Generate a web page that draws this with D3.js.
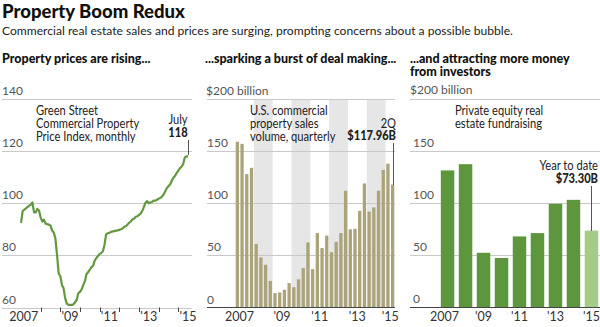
<!DOCTYPE html>
<html>
<head>
<meta charset="utf-8">
<script src="https://cdn.jsdelivr.net/npm/d3@7"></script>
<style>
  body { margin: 0; background: #fff; }
  svg text { font-family: Lato, "Open Sans", sans-serif; }
  .grid { stroke: #c9c9c9; stroke-width: 1; shape-rendering: crispEdges; }
  .base { stroke: #444; stroke-width: 1.2; shape-rendering: crispEdges; }
  .ylab { font-size: 12px; fill: #555; }
  .xlab { font-size: 12.5px; fill: #333; }
  .note { font-size: 12.8px; fill: #222; }
  .head { font-size: 12.5px; font-weight: 900; fill: #111; }
  .callout { stroke: #555; stroke-width: 1; shape-rendering: crispEdges; }
</style>
</head>
<body>
<div id="chart"></div>
<script>
// Green Street price index, monthly Jan 2007 .. Jul 2015
const priceIndex = [
  92.5, 97, 97.5, 98, 98.5, 99, 99.5, 100.3, 96.5, 96.5, 97.8, 97.2,
  94.5, 93, 93.7, 92.2, 92, 91.8, 91.5, 89.5, 88.8, 86.5, 80, 73,
  72, 68.5, 67.5, 63.5, 61.5, 61, 61, 61, 61.2, 62, 63, 65.5,
  66, 67, 68.5, 70, 72.8, 73.5, 74.5, 75.5, 76, 78, 79, 79.8,
  80.5, 81, 81.5, 84, 88, 88.5, 88.7, 89, 89.2, 89.3, 89.5, 89.6,
  89.8, 90, 90.3, 91, 91.2, 91.8, 92.5, 93, 93.8, 94, 94.8, 95,
  95.5, 96, 97, 98.5, 100.2, 100.8, 100, 100.3, 100.5, 101, 101, 101.3,
  101.8, 102, 102.5, 103.3, 104.5, 105.8, 106.5, 107.2, 108.5, 109.8, 110.5, 111.6,
  112.5, 113.5, 114, 115, 117.5, 118, 118
];
const priceTicks = [60, 80, 100, 120, 140];

// U.S. commercial property sales volume, quarterly 2007Q1 .. 2015Q2, $ billion
const salesVolume = [
  159, 157, 128, 134,
  61, 48, 41, 25.5,
  13.8, 14.4, 17, 23.4,
  19.5, 27, 37.8, 62.4,
  36.8, 71.4, 57, 69,
  53, 63, 71.4, 112,
  75, 75.5, 92.8, 119,
  92, 96, 112, 132,
  138, 117.96
];
const salesTicks = [0, 50, 100, 150];

// Private equity real estate fundraising, annual, $ billion (2015 = year to date)
const fundYears = [2007, 2008, 2009, 2010, 2011, 2012, 2013, 2014, 2015];
const fundValues = [131, 137, 52, 47, 67.7, 70.9, 99, 102.8, 73.3];
const fundTicks = [0, 50, 100, 150];

const yearLabels = {2007: '2007', 2009: "'09", 2011: "'11", 2013: "'13", 2015: "'15"};

const W = 600, H = 327;
const NARROW = 0.87;   // squeeze to mimic the condensed newspaper face

const svg = d3.select('#chart').append('svg')
  .attr('width', W).attr('height', H);

svg.append('text').attr('x', 2).attr('y', 18)
  .style('font-size', '18.5px').style('font-weight', 900).attr('fill', '#111')
  .text('Property Boom Redux');
svg.append('text').attr('x', 2).attr('y', 35)
  .style('font-size', '12.1px').attr('fill', '#222')
  .text('Commercial real estate sales and prices are surging, prompting concerns about a possible bubble.');

function heading(x, lines) {
  let t = svg.append('text').attr('class', 'head').attr('x', x).attr('y', 63);
  lines.forEach(function (s, i) {
    t.append('tspan').attr('x', x).attr('dy', i ? 13 : 0).text(s);
  });
}

// narrow multi-line text block: positioned with a transform so it can be
// squeezed horizontally; lines are tspans of one text element
function note(g, x, y, lines, anchor, bold) {
  let t = g.append('text').attr('class', 'note')
    .attr('transform', 'translate(' + x + ',' + y + ') scale(' + NARROW + ',1)')
    .attr('text-anchor', anchor || 'start');
  lines.forEach(function (s, i) {
    t.append('tspan').attr('x', 0).attr('dy', i ? 12.8 : 0)
      .style('font-weight', bold && bold[i] ? 900 : null)
      .text(s);
  });
  return t;
}

function price_panel() {
  let g = svg.append('g');
  let x = d3.scaleTime()
      .domain([new Date(2007, 0, 1), new Date(2015, 0, 1)])
      .range([21, 178.3]),
    y = d3.scaleLinear().domain([60, 140]).range([307.5, 99]);

  priceTicks.forEach(function (t) {
    g.append('line').attr('class', 'grid')
      .attr('x1', 2).attr('x2', 192)
      .attr('y1', Math.round(y(t)) + 0.5).attr('y2', Math.round(y(t)) + 0.5);
    g.append('text').attr('class', 'ylab')
      .attr('x', 2).attr('y', y(t) - 4).text(t);
  });

  // year ticks below the bottom gridline
  d3.range(2008, 2016).forEach(function (yr) {
    let px = Math.round(x(new Date(yr, 0, 1))) + 0.5;
    g.append('line').attr('stroke', '#444').attr('stroke-width', 1)
      .attr('x1', px).attr('x2', px).attr('y1', 307.5).attr('y2', 312);
  });
  Object.keys(yearLabels).forEach(function (yr) {
    g.append('text').attr('class', 'xlab')
      .attr('x', x(new Date(+yr, 6, 1)) - (yr === '2007' ? 7 : 0))
      .attr('y', 321).attr('text-anchor', 'middle')
      .text(yearLabels[yr]);
  });

  let line = d3.line()
    .x(function (d, i) { return x(new Date(2007, i, 1)); })
    .y(function (d) { return y(d); });
  g.append('path').datum(priceIndex)
    .attr('d', line).attr('fill', 'none')
    .attr('stroke', '#62993f').attr('stroke-width', 2.2)
    .attr('stroke-linejoin', 'round');

  note(g, 36, 115, ['Green Street', 'Commercial Property', 'Price Index, monthly']);

  let lastX = x(new Date(2007, priceIndex.length - 1, 1));
  note(g, lastX - 10, 124, ['July', '118'], 'middle', [false, true]);
  g.append('line').attr('class', 'callout')
    .attr('x1', Math.round(lastX) + 0.5).attr('x2', Math.round(lastX) + 0.5)
    .attr('y1', 140).attr('y2', y(priceIndex[priceIndex.length - 1]) - 1);
}

function sales_panel() {
  let g = svg.append('g');
  let quarters = salesVolume.map(function (v, i) { return i; });
  let x = d3.scaleBand().domain(quarters).range([235, 395]).paddingInner(0.3).paddingOuter(0.15),
    y = d3.scaleLinear().domain([0, 200]).range([307.5, 99]);
  let step = x.step();

  // shaded alternate years
  [2008, 2010, 2012, 2014].forEach(function (yr) {
    let q0 = (yr - 2007) * 4;
    g.append('rect').attr('fill', '#e6e6e6')
      .attr('x', x(q0) - step * 0.15).attr('width', step * 4)
      .attr('y', y(200)).attr('height', y(0) - y(200));
  });

  [50, 100, 150, 200].forEach(function (t) {
    g.append('line').attr('class', 'grid')
      .attr('x1', 207).attr('x2', 395)
      .attr('y1', Math.round(y(t)) + 0.5).attr('y2', Math.round(y(t)) + 0.5);
  });
  salesTicks.forEach(function (t) {
    g.append('text').attr('class', 'ylab').attr('x', 207).attr('y', y(t) - 4).text(t);
  });
  g.append('text').attr('class', 'ylab').attr('x', 206).attr('y', y(200) - 4).text('$200 billion');

  g.selectAll('rect.bar').data(salesVolume).enter().append('rect')
    .attr('class', 'bar').attr('fill', '#aba37a')
    .attr('x', function (d, i) { return x(i); })
    .attr('width', x.bandwidth())
    .attr('y', function (d) { return y(d); })
    .attr('height', function (d) { return y(0) - y(d); });

  g.append('line').attr('class', 'base')
    .attr('x1', 207).attr('x2', 395).attr('y1', 307.5).attr('y2', 307.5);

  Object.keys(yearLabels).forEach(function (yr) {
    let q0 = (+yr - 2007) * 4;
    let qs = quarters.slice(q0, q0 + 4);
    let cx = d3.mean(qs, function (q) { return x(q) + x.bandwidth() / 2; });
    g.append('text').attr('class', 'xlab')
      .attr('x', cx - (yr === '2007' ? 5 : 0)).attr('y', 321)
      .attr('text-anchor', 'middle').text(yearLabels[yr]);
  });

  note(g, 250, 115, ['U.S. commercial', 'property sales', 'volume, quarterly']);

  let last = salesVolume.length - 1;
  let lx = Math.round(x(last) + x.bandwidth() / 2) + 0.5;
  note(g, 396, 127.5, ['2Q', '$117.96B'], 'end', [false, true]);
  g.append('line').attr('class', 'callout')
    .attr('x1', lx).attr('x2', lx).attr('y1', 143).attr('y2', y(salesVolume[last]));
}

function fund_panel() {
  let g = svg.append('g');
  let x = d3.scaleBand().domain(fundYears).range([439, 600]).paddingInner(0.25).paddingOuter(0.1),
    y = d3.scaleLinear().domain([0, 200]).range([307, 98.5]);

  [50, 100, 150, 200].forEach(function (t) {
    g.append('line').attr('class', 'grid')
      .attr('x1', 410).attr('x2', 600)
      .attr('y1', Math.round(y(t)) + 0.5).attr('y2', Math.round(y(t)) + 0.5);
  });
  fundTicks.forEach(function (t) {
    g.append('text').attr('class', 'ylab').attr('x', 413).attr('y', y(t) - 4).text(t);
  });
  g.append('text').attr('class', 'ylab').attr('x', 410).attr('y', y(200) - 5).text('$200 billion');

  g.selectAll('rect.bar').data(fundValues).enter().append('rect')
    .attr('class', 'bar')
    .attr('fill', function (d, i) { return i === fundValues.length - 1 ? '#a6cb87' : '#5e963d'; })
    .attr('x', function (d, i) { return x(fundYears[i]); })
    .attr('width', x.bandwidth())
    .attr('y', function (d) { return y(d); })
    .attr('height', function (d) { return y(0) - y(d); });

  g.append('line').attr('class', 'base')
    .attr('x1', 410).attr('x2', 600).attr('y1', 307.5).attr('y2', 307.5);

  Object.keys(yearLabels).forEach(function (yr) {
    g.append('text').attr('class', 'xlab')
      .attr('x', x(+yr) + x.bandwidth() / 2 - (yr === '2007' ? 3 : 0)).attr('y', 321)
      .attr('text-anchor', 'middle').text(yearLabels[yr]);
  });

  note(g, 455, 115, ['Private equity real', 'estate fundraising']);

  let last = fundValues.length - 1;
  let lx = Math.round(x(fundYears[last]) + x.bandwidth() / 2) + 0.5;
  note(g, 598, 170, ['Year to date', '$73.30B'], 'end', [false, true]);
  g.append('line').attr('class', 'callout')
    .attr('x1', lx).attr('x2', lx).attr('y1', 186).attr('y2', y(fundValues[last]));
}

heading(2, ['Property prices are rising...']);
heading(205, ['...sparking a burst of deal making...']);
heading(410, ['...and attracting more money', 'from investors']);

price_panel();
sales_panel();
fund_panel();
</script>
</body>
</html>
